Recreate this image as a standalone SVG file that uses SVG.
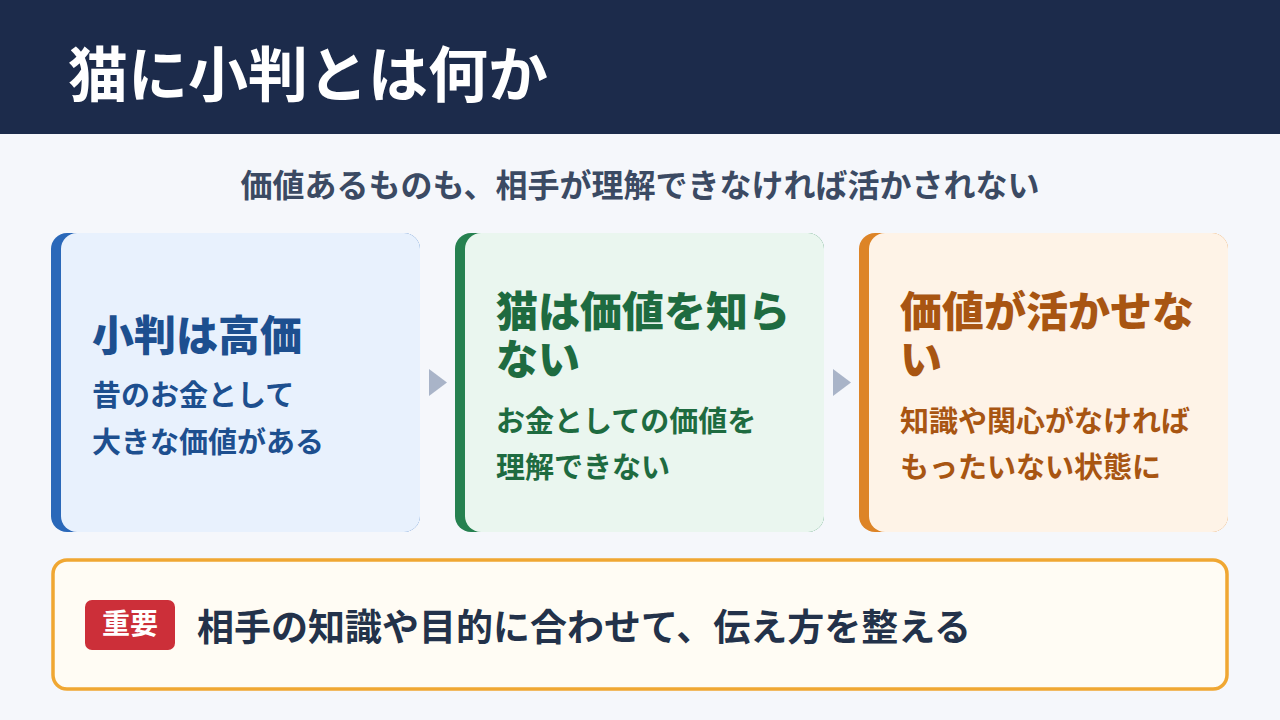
<svg xmlns="http://www.w3.org/2000/svg" width="1280" height="720" viewBox="0 0 1280 720">
<style>
text{font-family:"Noto Sans CJK JP","Noto Sans CJK SC",sans-serif;font-weight:700}
.title{font-size:42px;font-weight:800}
.sub{font-size:29px}
.arrow{fill:#a9b4c8}
</style>
<rect width="1280" height="720" fill="#f5f7fb"/>
<g id="header">
<rect width="1280" height="134" fill="#1c2b4b"/>
<text x="68" y="97" font-size="60" fill="#ffffff">猫に小判とは何か</text>
</g>
<g id="subtitle">
<text x="640" y="197" font-size="32" fill="#3b4a63" text-anchor="middle" font-weight="500">価値あるものも、相手が理解できなければ活かされない</text>
</g>
<g id="card1">
<rect x="51" y="233" width="369" height="299" rx="16" fill="#2a68b9"/>
<rect x="61" y="233" width="359" height="299" rx="16" fill="#e8f1fd"/>
<text class="title" x="92" y="351" fill="#1d4f8f">小判は高価</text>
<text class="sub" x="92" y="406" fill="#1d4f8f">昔のお金として</text>
<text class="sub" x="92" y="453" fill="#1d4f8f">大きな価値がある</text>
</g>
<g id="card2">
<rect x="455" y="233" width="369" height="299" rx="16" fill="#268150"/>
<rect x="465" y="233" width="359" height="299" rx="16" fill="#eaf6ef"/>
<text class="title" x="496" y="327" fill="#1e6b40">猫は価値を知ら</text>
<text class="title" x="496" y="375" fill="#1e6b40">ない</text>
<text class="sub" x="496" y="432" fill="#1e6b40">お金としての価値を</text>
<text class="sub" x="496" y="478" fill="#1e6b40">理解できない</text>
</g>
<g id="card3">
<rect x="859" y="233" width="369" height="299" rx="16" fill="#dd8427"/>
<rect x="869" y="233" width="359" height="299" rx="16" fill="#fef3e7"/>
<text class="title" x="900" y="327" fill="#a85512">価値が活かせな</text>
<text class="title" x="900" y="375" fill="#a85512">い</text>
<text class="sub" x="900" y="432" fill="#a85512">知識や関心がなければ</text>
<text class="sub" x="900" y="478" fill="#a85512">もったいない状態に</text>
</g>
<g id="connectors">
<polygon class="arrow" points="429,369 447,382.5 429,396"/>
<polygon class="arrow" points="833,369 851,382.5 833,396"/>
</g>
<g id="key-point">
<rect x="53" y="560" width="1174" height="129" rx="14" fill="#fffcf4" stroke="#f0a732" stroke-width="3.5"/>
<rect x="85" y="600" width="90" height="50" rx="7" fill="#cc2f39"/>
<text x="130" y="634" font-size="28" fill="#ffffff" text-anchor="middle">重要</text>
<text x="197" y="641" font-size="37" fill="#23324a">相手の知識や目的に合わせて、伝え方を整える</text>
</g>
</svg>
